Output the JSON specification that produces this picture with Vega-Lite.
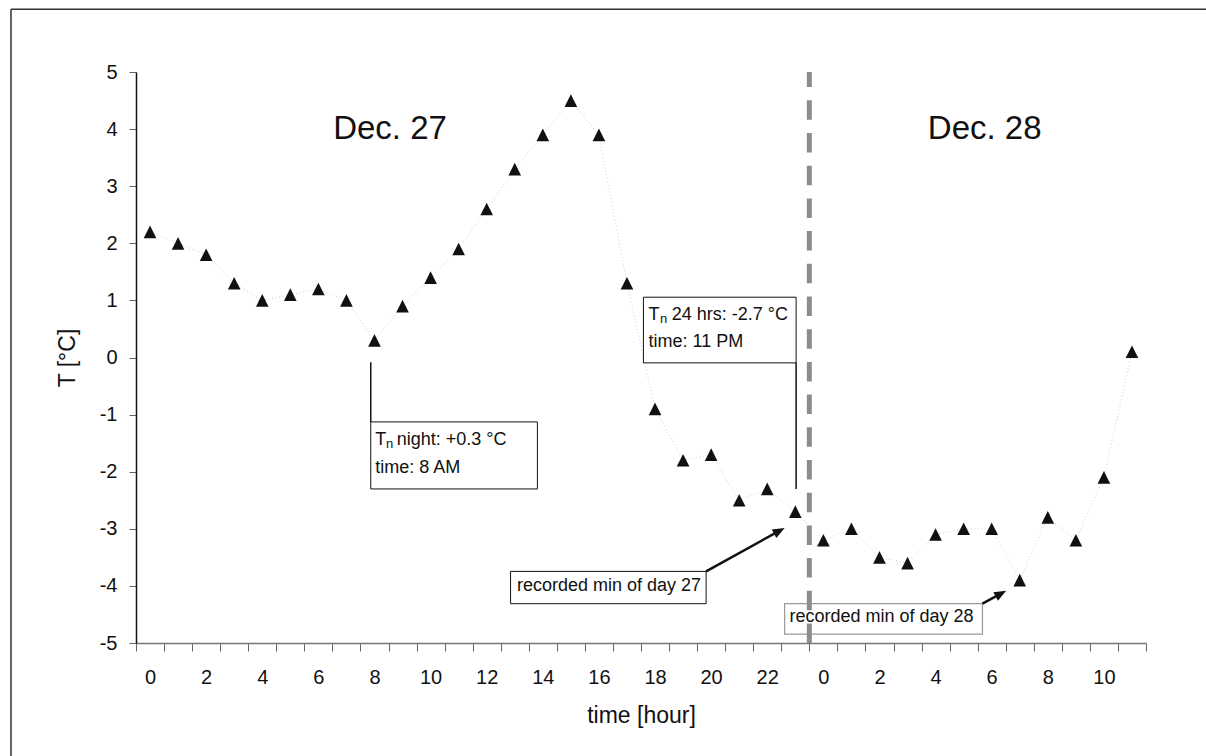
{
  "$schema": "https://vega.github.io/schema/vega-lite/v6.json",
  "width": 1010,
  "height": 571,
  "autosize": {"type": "none"},
  "padding": {"left": 136, "top": 72, "right": 60, "bottom": 113},
  "background": "white",
  "config": {"view": {"stroke": null}, "font": "Liberation Sans", "text": {"font": "Liberation Sans"}},
  "datasets": {
    "temps": [
      {"h": 0, "T": 2.2}, {"h": 1, "T": 2.0}, {"h": 2, "T": 1.8}, {"h": 3, "T": 1.3},
      {"h": 4, "T": 1.0}, {"h": 5, "T": 1.1}, {"h": 6, "T": 1.2}, {"h": 7, "T": 1.0},
      {"h": 8, "T": 0.3}, {"h": 9, "T": 0.9}, {"h": 10, "T": 1.4}, {"h": 11, "T": 1.9},
      {"h": 12, "T": 2.6}, {"h": 13, "T": 3.3}, {"h": 14, "T": 3.9}, {"h": 15, "T": 4.5},
      {"h": 16, "T": 3.9}, {"h": 17, "T": 1.3}, {"h": 18, "T": -0.9}, {"h": 19, "T": -1.8},
      {"h": 20, "T": -1.7}, {"h": 21, "T": -2.5}, {"h": 22, "T": -2.3}, {"h": 23, "T": -2.7},
      {"h": 24, "T": -3.2}, {"h": 25, "T": -3.0}, {"h": 26, "T": -3.5}, {"h": 27, "T": -3.6},
      {"h": 28, "T": -3.1}, {"h": 29, "T": -3.0}, {"h": 30, "T": -3.0}, {"h": 31, "T": -3.9},
      {"h": 32, "T": -2.8}, {"h": 33, "T": -3.2}, {"h": 34, "T": -2.1}, {"h": 35, "T": 0.1}
    ],
    "frame": [
      {"h": -4.956, "h2": 38.2, "T": 6.1, "T2": 6.1},
      {"h": -4.956, "h2": -4.956, "T": 6.1, "T2": -7.3}
    ],
    "divider": [{"h": 23.5, "h2": 23.5, "T": -5, "T2": 5}],
    "days": [{"h": 8.555, "T": 3.82, "label": "Dec. 27"}, {"h": 29.75, "T": 3.82, "label": "Dec. 28"}],
    "boxes": [
      {"h": 7.867, "h2": 13.807, "T": -1.128, "T2": -2.302},
      {"h": 17.586, "h2": 23.029, "T": 1.056, "T2": -0.094},
      {"h": 12.851, "h2": 19.821, "T": -3.746, "T2": -4.312}
    ],
    "grayboxes": [{"h": 22.619, "h2": 29.671, "T": -4.312, "T2": -4.843}],
    "connectors": [
      {"h": 7.867, "h2": 7.867, "T": -0.083, "T2": -1.128},
      {"h": 23.029, "h2": 23.029, "T": -0.094, "T2": -2.302}
    ],
    "shafts": [
      {"h": 19.821, "h2": 22.43, "T": -3.746, "T2": -3.036},
      {"h": 29.671, "h2": 30.327, "T": -4.312, "T2": -4.135}
    ],
    "heads": [{"h": 22.619, "T": -2.985}, {"h": 30.516, "T": -4.084}],
    "mainTexts": [
      {"h": 8.031, "T": -1.5256, "label": "T"},
      {"h": 8.794, "T": -1.5256, "label": "night: +0.3 °C"},
      {"h": 8.031, "T": -2.0216, "label": "time: 8 AM"},
      {"h": 17.771, "T": 0.66, "label": "T"},
      {"h": 18.598, "T": 0.66, "label": "24 hrs: -2.7 °C"},
      {"h": 17.771, "T": 0.1866, "label": "time: 11 PM"},
      {"h": 13.076, "T": -4.0966, "label": "recorded min of day 27"},
      {"h": 22.794, "T": -4.64, "label": "recorded min of day 28"}
    ],
    "subTexts": [
      {"h": 8.413, "T": -1.583, "label": "n"},
      {"h": 18.181, "T": 0.602, "label": "n"}
    ]
  },
  "encoding": {
    "x": {
      "field": "h", "type": "quantitative",
      "scale": {"domain": [-0.5, 35.5], "nice": false, "zero": false},
      "axis": {
        "title": "time [hour]",
        "values": [-0.5, 0.5, 1.5, 2.5, 3.5, 4.5, 5.5, 6.5, 7.5, 8.5, 9.5, 10.5, 11.5, 12.5, 13.5, 14.5, 15.5, 16.5, 17.5, 18.5, 19.5, 20.5, 21.5, 22.5, 23.5, 24.5, 25.5, 26.5, 27.5, 28.5, 29.5, 30.5, 31.5, 32.5, 33.5, 34.5, 35.5],
        "labelExpr": "((datum.value + 0.5) % 2 == 0 && datum.value < 35) ? (((datum.value + 0.5) < 24) ? ('' + (datum.value + 0.5)) : ('' + (datum.value - 23.5))) : ''",
        "labelOffset": 14,
        "labelFlush": false,
        "labelOverlap": false,
        "labelFontSize": 20,
        "labelColor": "#111",
        "labelPadding": 16,
        "tickSize": 8,
        "tickColor": "#666",
        "domainColor": "#777",
        "domainWidth": 1.5,
        "grid": false,
        "titleFontSize": 23,
        "titleFontWeight": "normal",
        "titleColor": "#111",
        "titlePadding": 17
      }
    },
    "y": {
      "field": "T", "type": "quantitative",
      "scale": {"domain": [-5, 5], "nice": false, "zero": false},
      "axis": {
        "title": "T [°C]",
        "values": [-5, -4, -3, -2, -1, 0, 1, 2, 3, 4, 5],
        "labelExpr": "'' + datum.value",
        "labelFlush": false,
        "labelFontSize": 20,
        "labelColor": "#111",
        "labelPadding": 12,
        "tickSize": 7,
        "tickColor": "#666",
        "domainColor": "#111",
        "domainWidth": 1.5,
        "grid": false,
        "titleFontSize": 23,
        "titleFontWeight": "normal",
        "titleColor": "#111",
        "titlePadding": 20
      }
    }
  },
  "layer": [
    {
      "data": {"name": "frame"},
      "mark": {"type": "rule", "stroke": "#333", "strokeWidth": 1.5, "clip": false},
      "encoding": {"x2": {"field": "h2"}, "y2": {"field": "T2"}}
    },
    {
      "data": {"name": "temps"},
      "mark": {"type": "line", "stroke": "#d0d0d0", "strokeWidth": 1, "strokeDash": [1, 2.5]},
      "encoding": {}
    },
    {
      "data": {"name": "boxes"},
      "mark": {"type": "rect", "fill": "white", "stroke": "#111", "strokeWidth": 1},
      "encoding": {"x2": {"field": "h2"}, "y2": {"field": "T2"}}
    },
    {
      "data": {"name": "grayboxes"},
      "mark": {"type": "rect", "fill": "white", "stroke": "#9a9a9a", "strokeWidth": 1.2},
      "encoding": {"x2": {"field": "h2"}, "y2": {"field": "T2"}}
    },
    {
      "data": {"name": "divider"},
      "mark": {"type": "rule", "stroke": "#8c8c8c", "strokeWidth": 5, "strokeDash": [19.5, 13.2]},
      "encoding": {"x2": {"field": "h2"}, "y2": {"field": "T2"}}
    },
    {
      "data": {"name": "connectors"},
      "mark": {"type": "rule", "stroke": "#111", "strokeWidth": 1.5},
      "encoding": {"x2": {"field": "h2"}, "y2": {"field": "T2"}}
    },
    {
      "data": {"name": "shafts"},
      "mark": {"type": "rule", "stroke": "#111", "strokeWidth": 2.5},
      "encoding": {"x2": {"field": "h2"}, "y2": {"field": "T2"}}
    },
    {
      "data": {"name": "heads"},
      "mark": {"type": "point", "shape": "M0,0L0.8,2L-0.8,2Z", "filled": true, "fill": "#111", "stroke": null, "size": 144, "angle": 61.5, "opacity": 1}
    },
    {
      "data": {"name": "temps"},
      "mark": {"type": "point", "shape": "M0,-1L1,1L-1,1Z", "filled": true, "fill": "#111", "stroke": null, "size": 160, "opacity": 1}
    },
    {
      "data": {"name": "days"},
      "mark": {"type": "text", "fontSize": 33, "align": "center", "baseline": "alphabetic", "color": "#111"},
      "encoding": {"text": {"field": "label"}}
    },
    {
      "data": {"name": "mainTexts"},
      "mark": {"type": "text", "fontSize": 18, "align": "left", "baseline": "alphabetic", "color": "#111"},
      "encoding": {"text": {"field": "label"}}
    },
    {
      "data": {"name": "subTexts"},
      "mark": {"type": "text", "fontSize": 13, "align": "left", "baseline": "alphabetic", "color": "#111"},
      "encoding": {"text": {"field": "label"}}
    }
  ]
}
